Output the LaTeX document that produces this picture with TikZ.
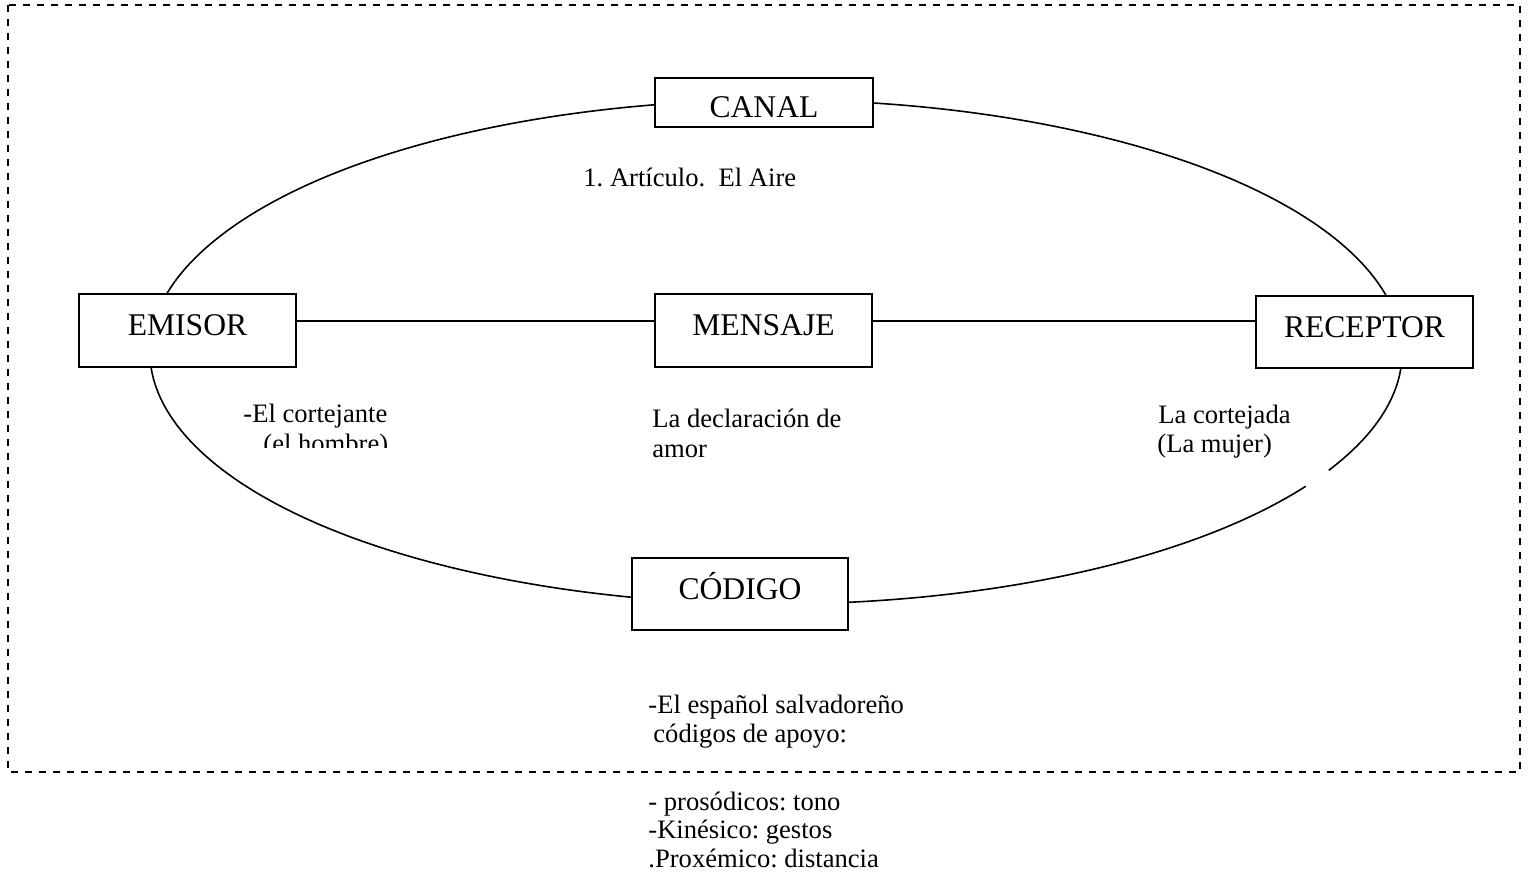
\documentclass[tikz,border=0pt]{standalone}
\usepackage{fontspec}
\setmainfont{Liberation Serif}
\usetikzlibrary{calc}
\frenchspacing
\begin{document}
\begin{tikzpicture}[x=0.5pt,y=0.5pt,
  boxlabel/.style={draw, line width=1pt, fill=white, inner sep=0pt, anchor=base,
    font=\fontsize{15.8pt}{18pt}\selectfont},
  note/.style={anchor=base west, inner sep=0pt, font=\fontsize{13.3pt}{15pt}\selectfont},
  ring/.style={line width=0.8pt},
  link/.style={line width=0.8pt},
  frame/.style={line width=1pt, dash pattern=on 3.5pt off 3.5pt}]
\useasboundingbox (0,0) rectangle (1531,-878);

% dashed outer frame
\draw[frame] (8,-5) rectangle (1520,-772);

% the communication ring, with a small break on the lower right
\coordinate (ringc) at (776,-352);
\draw[ring] (ringc) ++(-28:313pt and 126pt)
  arc[start angle=-28, end angle=327.8, x radius=313pt, y radius=126pt];

% the five elements
\node[boxlabel, minimum width=109pt, text height=19.5pt, text depth=5pt] (canal) at (764,-117) {CANAL};
\node[boxlabel, minimum width=108.5pt, text height=20.5pt, text depth=16pt] (emisor) at (187.5,-335) {EMISOR};
\node[boxlabel, minimum width=108.5pt, text height=20.5pt, text depth=16pt] (mensaje) at (763.5,-335) {MENSAJE};
\node[boxlabel, minimum width=108.5pt, text height=20.5pt, text depth=15.5pt] (receptor) at (1364.5,-337) {RECEPTOR};
\node[boxlabel, minimum width=108pt, text height=20.5pt, text depth=15.5pt] (codigo) at (740,-599) {CÓDIGO};

% straight links through the message
\draw[link] ($(emisor.east)+(0,9.5)$) coordinate (l1) -- (mensaje.west |- l1);
\draw[link] ($(mensaje.east)+(0,9.5)$) coordinate (l2) -- (receptor.west |- l2);

% notes
\node[note] (aire) at (583,-186) {1. Artículo.\ \ El Aire};
\node[note] (emi1) at (243,-422) {-El cortejante};
\begin{scope}
  \clip (200,-400) rectangle (430,-447);
  \node[note] (emi2) at (263,-452) {(el hombre)};
\end{scope}
\node[note] (men1) at (652,-427) {La declaración de};
\node[note] (men2) at (652,-457) {amor};
\node[note] (rec1) at (1158,-423) {La cortejada};
\node[note] (rec2) at (1157,-452) {(La mujer)};
\node[note] (cod1) at (648,-713) {-El español salvadoreño};
\node[note] (cod2) at (653,-742) {códigos de apoyo:};
\node[note] (cod3) at (648,-810) {- prosódicos: tono};
\node[note] (cod4) at (648,-838) {-Kinésico: gestos};
\node[note] (cod5) at (648,-867) {.Proxémico: distancia};
\end{tikzpicture}
\end{document}
